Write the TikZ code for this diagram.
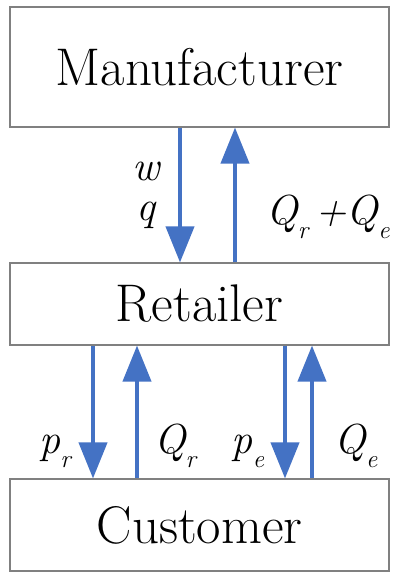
\documentclass[tikz,border=0pt]{standalone}
\usetikzlibrary{arrows.meta}
\newcommand{\vsub}[1]{\raisebox{-0.34em}{\fontsize{25}{25}\selectfont\itshape #1}}
\definecolor{flowblue}{HTML}{4472C4}
\definecolor{boxgray}{HTML}{808080}
\tikzset{
  box/.style={draw=boxgray, line width=1.1pt, minimum width=379pt, inner sep=0pt, font=\fontsize{53}{53}\selectfont},
  arr/.style={draw=flowblue, line width=4pt, -{Triangle[width=28pt,length=36pt]}},
  lbl/.style={inner sep=0pt, font=\fontsize{42}{42}\selectfont\itshape}
}
\begin{document}
\begin{tikzpicture}[x=1pt,y=-1pt]
\useasboundingbox (0,0) rectangle (398,575);
\node[box, minimum height=120pt] (m) at (199.5,67) {Manufacturer};
\node[box, minimum height=82pt] (r) at (199.5,304) {Retailer};
\node[box, minimum height=92pt] (c) at (199.5,525) {Customer};
\coordinate (a1) at (180,0);
\coordinate (a2) at (235,0);
\coordinate (b1) at (93,0);
\coordinate (b2) at (137,0);
\coordinate (b3) at (285,0);
\coordinate (b4) at (312,0);
\draw[arr] (m.south -| a1) -- (r.north -| a1);
\draw[arr] (r.north -| a2) -- (m.south -| a2);
\draw[arr] (r.south -| b1) -- (c.north -| b1);
\draw[arr] (c.north -| b2) -- (r.south -| b2);
\draw[arr] (r.south -| b3) -- (c.north -| b3);
\draw[arr] (c.north -| b4) -- (r.south -| b4);
\node[lbl] (lw) at (146,171) {w};
\node[lbl] (lq) at (146,215) {q};
\node[lbl, anchor=base] (lqq) at (328,224) {Q\vsub{r}\,+Q\vsub{e}};
\node[lbl, anchor=base] (lpr) at (55,453) {p\vsub{r}};
\node[lbl, anchor=base] (lqr) at (175,453) {Q\vsub{r}};
\node[lbl, anchor=base] (lpe) at (248,453) {p\vsub{e}};
\node[lbl, anchor=base] (lqe) at (356,453) {Q\vsub{e}};
\end{tikzpicture}
\end{document}
